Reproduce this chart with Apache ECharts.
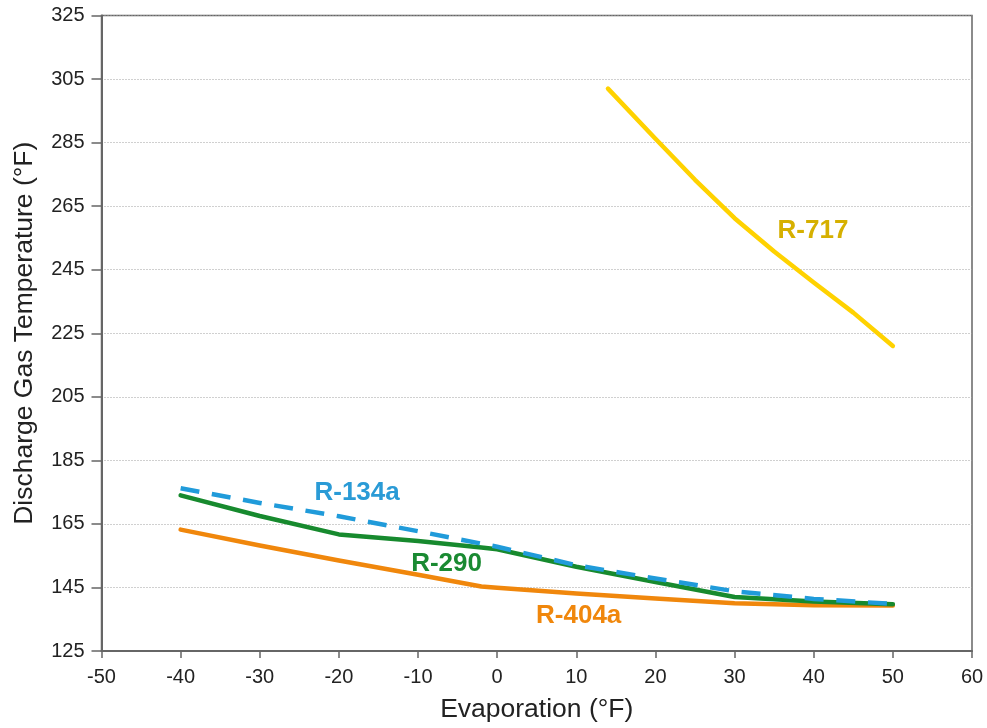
<!DOCTYPE html>
<html>
<head>
<meta charset="utf-8">
<script src="https://cdn.jsdelivr.net/npm/echarts@6/dist/echarts.min.js"></script>
<style>
html,body{margin:0;padding:0;background:#fff;}
#chart{width:987px;height:728px;}
</style>
</head>
<body>
<div id="chart"></div>
<script>
// Data (x = evaporation °F, y = discharge gas temperature °F)
const r404a = [[-40,163.2],[-30,158.2],[-20,153.5],[-10,149],[-2,145.3],[0,144.9],[10,143.1],[20,141.5],[30,140],[40,139.4],[50,139.3]];
const r290  = [[-40,174],[-30,167.5],[-20,161.7],[-10,159.6],[-2,157.6],[0,157],[10,151.5],[20,146.7],[30,142],[40,140.6],[50,139.7]];
const r134a = [[-40,176.2],[-30,171.6],[-20,167.4],[-10,162.7],[0,157.8],[10,152],[20,147.8],[30,143.8],[40,141.4],[50,139.8]];
const r717  = [[14,302],[20,286.2],[25,273.3],[30,261.2],[35,250.7],[40,241],[45,231.5],[50,221]];

const seriesNames = ['R-404a','R-290','R-134a','R-717'];
// label anchor positions in data coordinates
const labelAt = [[10.3,136.2],[-6.4,152.5],[-17.7,174.8],[39.9,257.2]];

const xTicks = {min:-50, max:60, interval:10};
const yTicks = {min:125, max:325, interval:20};

const FONT = '"Liberation Sans", Arial, Helvetica, sans-serif';

function labelPoint(i, color){
  return {
    symbol:'circle', symbolSize:1, silent:true,
    itemStyle:{color:'transparent'},
    label:{show:true, position:'inside', formatter:seriesNames[i], color:color,
           fontFamily:FONT, fontWeight:'bold', fontSize:26},
    data:[{coord:labelAt[i]}]
  };
}

const chart = echarts.init(document.getElementById('chart'), null, {renderer:'canvas'});
chart.setOption({
  animation:false,
  backgroundColor:'#fff',
  grid:{left:101.5, right:15, top:15.5, bottom:75, show:true, borderColor:'#666', borderWidth:1.5, backgroundColor:'transparent'},
  xAxis:{
    type:'value', min:xTicks.min, max:xTicks.max, interval:xTicks.interval,
    name:'Evaporation (°F)', nameLocation:'middle', nameGap:45,
    nameTextStyle:{fontFamily:FONT, fontSize:26.5, color:'#222'},
    axisLine:{show:true, onZero:false, lineStyle:{color:'#666', width:2}},
    axisTick:{show:true, inside:false, length:7, lineStyle:{color:'#666', width:1.5}},
    axisLabel:{fontFamily:FONT, fontSize:20, color:'#222', margin:16},
    splitLine:{show:false}
  },
  yAxis:{
    type:'value', min:yTicks.min, max:yTicks.max, interval:yTicks.interval,
    name:'Discharge Gas Temperature (°F)', nameLocation:'middle', nameGap:63,
    nameTextStyle:{fontFamily:FONT, fontSize:26.5, color:'#222'},
    axisLine:{show:true, onZero:false, lineStyle:{color:'#666', width:2}},
    axisTick:{show:true, inside:false, length:10, lineStyle:{color:'#666', width:1.5}},
    axisLabel:{fontFamily:FONT, fontSize:20, color:'#222', margin:17},
    splitLine:{show:true, lineStyle:{color:'#a0a0a0', width:1, type:[1,2]}}
  },
  series:[
    {name:seriesNames[0], type:'line', data:r404a, showSymbol:false, z:2,
     lineStyle:{color:'#F0870C', width:4.5, cap:'round', join:'round'},
     markPoint:labelPoint(0,'#F0870C')},
    {name:seriesNames[1], type:'line', data:r290, showSymbol:false, z:3,
     lineStyle:{color:'#178A2E', width:4.5, cap:'round', join:'round'},
     markPoint:labelPoint(1,'#1A8A32')},
    {name:seriesNames[2], type:'line', data:r134a, showSymbol:false, z:4,
     lineStyle:{color:'#209BDA', width:4.5, type:[19,12.7], cap:'butt', join:'round'},
     markPoint:labelPoint(2,'#2A9BD6')},
    {name:seriesNames[3], type:'line', data:r717, showSymbol:false, z:5,
     lineStyle:{color:'#FFD200', width:4.5, cap:'round', join:'round'},
     markPoint:labelPoint(3,'#D6B000')}
  ]
});
</script>
</body>
</html>
